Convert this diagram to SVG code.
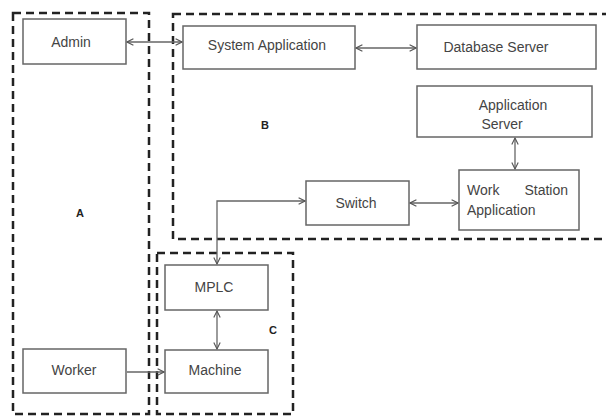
<svg xmlns="http://www.w3.org/2000/svg" width="606" height="418" viewBox="0 0 606 418">
<style>
.grp{fill:none;stroke:#222;stroke-width:2.5;stroke-dasharray:8 5}
.box{fill:#fff;stroke:#666;stroke-width:1.5}
.t{font-family:"Liberation Sans",Arial,sans-serif;font-size:14px;fill:#444;text-anchor:middle}
.lbl{font-family:"Liberation Sans",Arial,sans-serif;font-size:11px;font-weight:bold;fill:#222;text-anchor:middle}
.c{fill:none;stroke:#666;stroke-width:1.3}
</style>
<defs>
<marker id="ah" viewBox="0 0 10 10" refX="9" refY="5" markerWidth="8" markerHeight="8" orient="auto-start-reverse" markerUnits="userSpaceOnUse">
<path d="M1,1 L9,5 L1,9" fill="none" stroke="#555" stroke-width="1.4"/>
</marker>
</defs>
<g id="groups">
<rect class="grp" x="13" y="13" width="136" height="401"/>
<rect class="grp" x="173" y="14" width="440" height="225"/>
<rect class="grp" x="157" y="253" width="136" height="161"/>
<text class="lbl" x="80" y="217">A</text>
<text class="lbl" x="265" y="129">B</text>
<text class="lbl" x="273" y="334">C</text>
</g>
<g id="connectors">
<line class="c" x1="127" y1="42" x2="182" y2="42" marker-start="url(#ah)" marker-end="url(#ah)"/>
<line class="c" x1="356" y1="48" x2="416" y2="48" marker-start="url(#ah)" marker-end="url(#ah)"/>
<line class="c" x1="515" y1="138" x2="515" y2="169" marker-start="url(#ah)" marker-end="url(#ah)"/>
<line class="c" x1="410" y1="203" x2="458" y2="203" marker-start="url(#ah)" marker-end="url(#ah)"/>
<polyline class="c" points="305,201 217,201 217,264" marker-start="url(#ah)" marker-end="url(#ah)"/>
<line class="c" x1="217" y1="311" x2="217" y2="349" marker-start="url(#ah)" marker-end="url(#ah)"/>
<line class="c" x1="127" y1="372" x2="164" y2="372" marker-end="url(#ah)"/>
</g>
<g id="admin"><rect class="box" x="23" y="19" width="103" height="45"/><text class="t" x="71" y="47">Admin</text></g>
<g id="system-application"><rect class="box" x="183" y="26" width="172" height="43"/><text class="t" x="267" y="50">System Application</text></g>
<g id="database-server"><rect class="box" x="417" y="25" width="179" height="44"/><text class="t" x="496" y="52">Database Server</text></g>
<g id="application-server"><rect class="box" x="417" y="86" width="175" height="51"/><text class="t" x="513" y="110">Application</text><text class="t" x="502" y="129">Server</text></g>
<g id="work-station-application"><rect class="box" x="459" y="170" width="120" height="60"/><text class="t" x="467" y="195" style="text-anchor:start">Work</text><text class="t" x="568" y="195" style="text-anchor:end">Station</text><text class="t" x="467" y="215" style="text-anchor:start">Application</text></g>
<g id="switch"><rect class="box" x="306" y="181" width="103" height="44"/><text class="t" x="356" y="208">Switch</text></g>
<g id="mplc"><rect class="box" x="165" y="265" width="103" height="45"/><text class="t" x="214" y="292">MPLC</text></g>
<g id="machine"><rect class="box" x="165" y="350" width="103" height="43"/><text class="t" x="215" y="375">Machine</text></g>
<g id="worker"><rect class="box" x="23" y="349" width="103" height="44"/><text class="t" x="74" y="375">Worker</text></g>
</svg>
